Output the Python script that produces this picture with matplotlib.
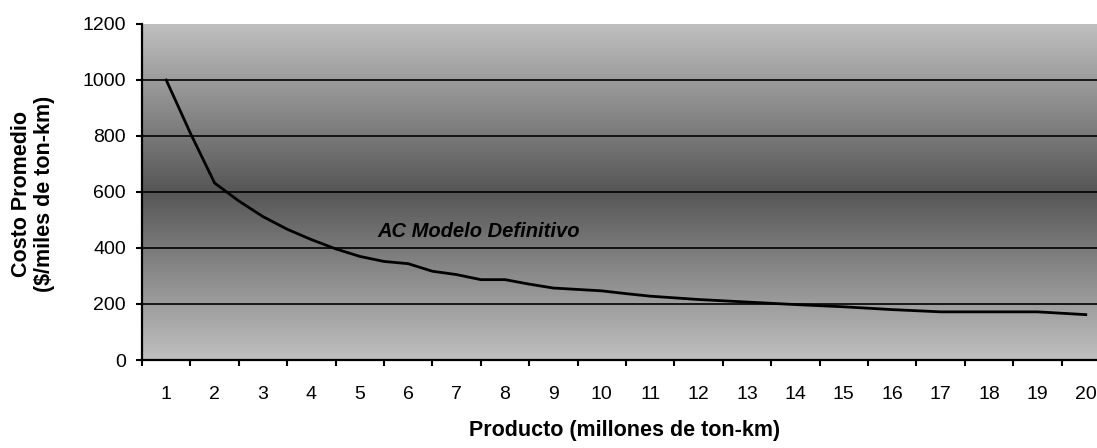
import numpy as np
import matplotlib
matplotlib.use("Agg")
import matplotlib.pyplot as plt
from matplotlib.colors import LinearSegmentedColormap

plt.rcParams['font.family'] = ['Liberation Sans', 'DejaVu Sans']

# Average cost curve (x in millions of ton-km, y in $/thousand ton-km)
producto = [1, 1.5, 2, 2.5, 3, 3.5, 4, 4.5, 5, 5.5, 6, 6.5, 7, 7.5, 8, 8.5,
            9, 9.5, 10, 10.5, 11, 11.5, 12, 13, 14, 15, 16, 17, 18, 19, 20]
costo = [1000, 810, 632, 568, 512, 467, 430, 397, 370, 352, 344, 317, 305,
         287, 287, 271, 257, 252, 247, 237, 228, 222, 216, 207, 198, 190,
         180, 172, 172, 172, 162]

x_labels = [str(i) for i in range(1, 21)]
y_ticks = [0, 200, 400, 600, 800, 1000, 1200]
serie_label = "AC Modelo Definitivo"

fig = plt.figure(figsize=(10.97, 4.48), dpi=100)
ax = fig.add_axes([142 / 1097, 88 / 448, 968 / 1097, 336 / 448])

# Background: light at the edges, dark through the middle
cmap = LinearSegmentedColormap.from_list(
    "band", ["#c0c0c0", "#565656", "#c0c0c0"])
grad = np.linspace(0, 1, 256).reshape(-1, 1)
ax.imshow(grad, cmap=cmap, aspect="auto", extent=[0, 1, 0, 1],
          transform=ax.transAxes, zorder=0, interpolation="bilinear")

ax.set_xlim(0.5, 20.5)
ax.set_ylim(0, 1200)

# Horizontal gridlines inside the plot area (none on the top edge)
for v in y_ticks[1:-1]:
    ax.axhline(v, color="black", linewidth=1.2, zorder=1)

ax.plot(producto, costo, color="black", linewidth=2.0, zorder=3,
        solid_joinstyle="round")

ax.text(7.45, 460, serie_label, fontsize=14.5, fontweight="bold",
        fontstyle="italic", ha="center", va="center", zorder=4)

for side in ("top", "right"):
    ax.spines[side].set_visible(False)
for side in ("left", "bottom"):
    ax.spines[side].set_linewidth(1.6)
    ax.spines[side].set_color("black")
    ax.spines[side].set_zorder(5)

# X axis: tick marks between categories, labels at category centres
ax.set_xticks(np.arange(0.5, 20.5, 1.0))
ax.set_xticklabels([])
ax.set_xticks(np.arange(1, 21), minor=True)
ax.set_xticklabels(x_labels, minor=True, fontsize=14)
ax.tick_params(axis="x", which="major", direction="out", length=4.5,
               width=1.5, color="black")
ax.tick_params(axis="x", which="minor", length=0, pad=19)

ax.set_yticks(y_ticks)
ax.set_yticklabels([str(v) for v in y_ticks], fontsize=14)
ax.tick_params(axis="y", direction="out", length=4.5, width=1.5,
               color="black", pad=7)

fig.text(33 / 1097, 1 - 194 / 448, "Costo Promedio\n($/miles de ton-km)",
         rotation=90, ha="center", va="center", multialignment="center",
         fontsize=15.5, fontweight="bold", linespacing=1.1)
fig.text(625 / 1097, 1 - 430 / 448, "Producto (millones de ton-km)",
         ha="center", va="center", fontsize=15.5, fontweight="bold")

fig.savefig("out.png", dpi=100)
